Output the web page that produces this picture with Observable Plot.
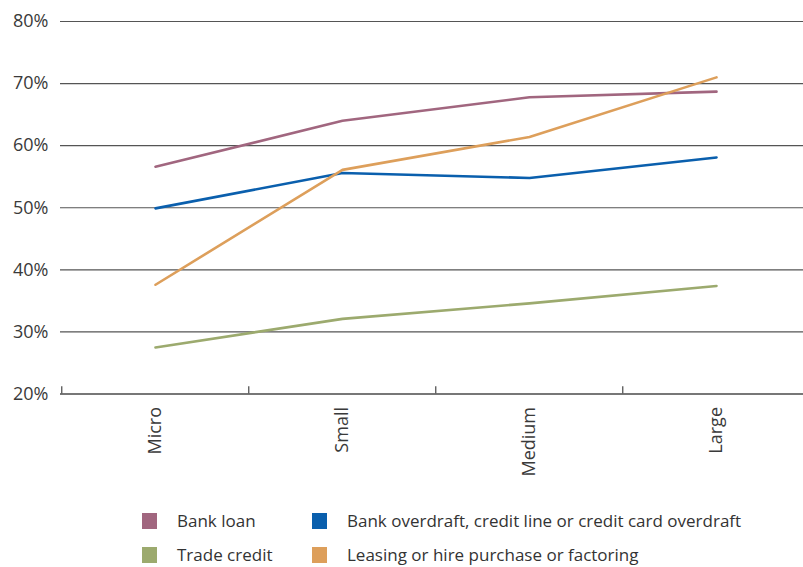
<!DOCTYPE html>
<html>
<head>
<meta charset="utf-8">
<script src="https://cdn.jsdelivr.net/npm/d3@7"></script>
<script src="https://cdn.jsdelivr.net/npm/@observablehq/plot@0.6"></script>
<style>
  body { margin: 0; background: #fff; font-family: "Open Sans", sans-serif; }
  #wrap { position: relative; width: 803px; height: 567px; }
  #legend { position: absolute; left: 142px; top: 509px; display: grid; grid-template-columns: 170px auto; row-gap: 11px; font-size: 17px; color: #333; }
  .item { display: flex; align-items: center; height: 23px; white-space: nowrap; }
  .sw { width: 15px; height: 16px; margin-right: 20px; flex: none; }
</style>
</head>
<body>
<div id="wrap"></div>
<script>
const categories = ["Micro", "Small", "Medium", "Large"];
const seriesNames = ["Bank loan", "Bank overdraft, credit line or credit card overdraft", "Trade credit", "Leasing or hire purchase or factoring"];
const bankLoan = [56.6, 64.0, 67.8, 68.7];
const overdraft = [49.9, 55.6, 54.8, 58.1];
const tradeCredit = [27.5, 32.1, 34.6, 37.4];
const leasing = [37.6, 56.1, 61.4, 71.0];
const colors = ["#a1667f", "#0a5fad", "#9caa6e", "#dd9f5b"];
const yTicks = [20, 30, 40, 50, 60, 70, 80];
const legendOrder = [0, 1, 2, 3];

const seriesValues = [bankLoan, overdraft, tradeCredit, leasing];
const data = [];
seriesNames.forEach((s, i) => categories.forEach((c, j) => data.push({series: s, cat: c, value: seriesValues[i][j]})));

const xRange = [60, 810];
const step = (xRange[1] - xRange[0]) / categories.length;

const chart = Plot.plot({
  width: 803,
  height: 500,
  marginTop: 21,
  marginBottom: 106.5,
  marginLeft: 60,
  marginRight: 0,
  style: {fontFamily: "Open Sans, sans-serif", fontSize: "18px", color: "#333", background: "#fff"},
  x: {type: "point", domain: categories, range: xRange, padding: 0.5, align: 0.5},
  y: {domain: [20, 80], ticks: yTicks},
  color: {domain: seriesNames, range: colors},
  marks: [
    Plot.ruleY(yTicks.filter(t => t > 20), {stroke: "#555", strokeWidth: 1.2}),
    Plot.ruleY([20], {stroke: "#777", strokeWidth: 2}),
    Plot.ruleX(categories, {x: d => d, dx: -step / 2, y1: 20, y2: 21.15, stroke: "#555", strokeWidth: 1.3}),
    Plot.axisY({ticks: yTicks, tickFormat: d => d + "%", tickSize: 0, tickPadding: 12, label: null, fontSize: 18, fill: "#3a3a3a"}),
    Plot.axisX({tickRotate: -90, tickSize: 0, tickPadding: 13, label: null, fontSize: 18, fill: "#3a3a3a"}),
    Plot.line(data, {x: "cat", y: "value", z: "series", stroke: "series", strokeWidth: 2.6})
  ]
});

const wrap = document.getElementById("wrap");
wrap.appendChild(chart);
const legend = document.createElement("div");
legend.id = "legend";
legendOrder.forEach(i => {
  const it = document.createElement("div");
  it.className = "item";
  const sw = document.createElement("span");
  sw.className = "sw";
  sw.style.background = colors[i];
  it.appendChild(sw);
  it.appendChild(document.createTextNode(seriesNames[i]));
  legend.appendChild(it);
});
wrap.appendChild(legend);
</script>
</body>
</html>
